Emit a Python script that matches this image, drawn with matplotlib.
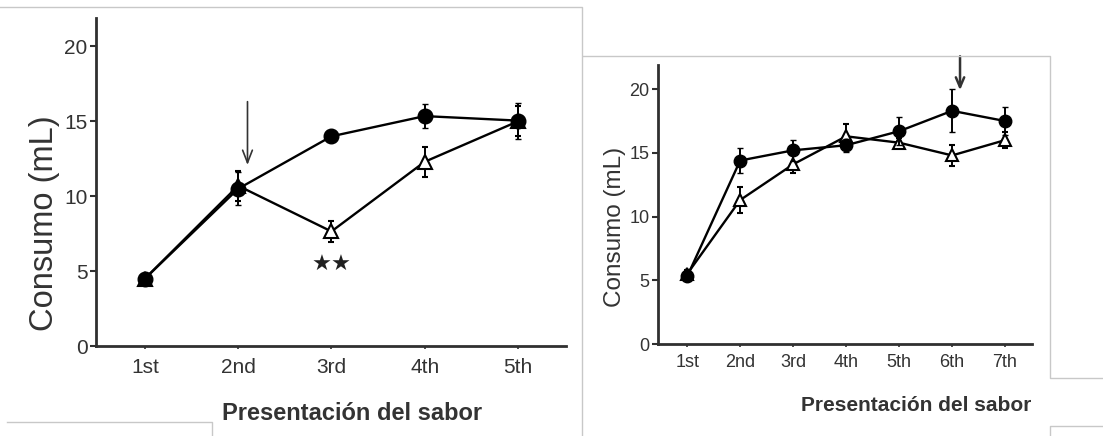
import numpy as np
import matplotlib
matplotlib.use("Agg")
import matplotlib.pyplot as plt
from matplotlib.lines import Line2D

plt.rcParams['font.family'] = ['Liberation Sans', 'DejaVu Sans']

# panel izquierdo: 5 presentaciones
izq_labels = ["1st", "2nd", "3rd", "4th", "5th"]
izq_circ = [4.5, 10.5, 14.0, 15.35, 15.05]
izq_circ_err = [0.3, 1.1, 0.3, 0.8, 1.2]
izq_tri = [4.5, 10.7, 7.65, 12.3, 15.0]
izq_tri_err = [0.3, 1.0, 0.7, 1.0, 1.0]

# panel derecho: 7 presentaciones
der_labels = ["1st", "2nd", "3rd", "4th", "5th", "6th", "7th"]
der_circ = [5.3, 14.4, 15.2, 15.6, 16.7, 18.3, 17.5]
der_circ_err = [0.3, 1.0, 0.8, 0.5, 1.1, 1.7, 1.1]
der_tri = [5.5, 11.3, 14.1, 16.3, 15.8, 14.8, 16.0]
der_tri_err = [0.3, 1.0, 0.7, 1.0, 0.4, 0.8, 0.6]

W, H = 1103, 436
GRIS = "#333333"


def px(x, y):
    return x / W, 1 - y / H


def panel(ax, labels, circ, circ_err, tri, tri_err, xlim, ms, fs_tick, pad_x):
    x = np.arange(1, len(labels) + 1)
    ax.errorbar(x, tri, yerr=tri_err, color="black", lw=1.7, marker="^",
                ms=ms, mfc="white", mec="black", mew=1.5, capsize=2.5,
                elinewidth=1.4, zorder=3)
    ax.errorbar(x, circ, yerr=circ_err, color="black", lw=1.7, marker="o",
                ms=ms, mfc="black", mec="black", capsize=2.5,
                elinewidth=1.4, zorder=4)
    ax.set_xlim(*xlim)
    ax.set_ylim(0, 21.9)
    ax.set_xticks(x)
    ax.set_xticklabels(labels)
    ax.set_yticks([0, 5, 10, 15, 20])
    for s in ["top", "right"]:
        ax.spines[s].set_visible(False)
    for s in ["left", "bottom"]:
        ax.spines[s].set_linewidth(2.0)
        ax.spines[s].set_color("#303030")
    ax.tick_params(axis="y", length=4, width=1.5, pad=2, labelsize=fs_tick,
                   labelcolor=GRIS, color="#303030")
    ax.tick_params(axis="x", length=2.5, width=1.2, pad=pad_x, labelsize=fs_tick,
                   labelcolor=GRIS, color="#303030")


fig = plt.figure(figsize=(W / 100, H / 100), dpi=100)

ax1 = fig.add_axes([0.0870, 0.2064, 0.4261, 0.7523])
panel(ax1, izq_labels, izq_circ, izq_circ_err, izq_tri, izq_tri_err,
      (0.475, 5.515), 10.5, 15, 6)
ax1.annotate("", xy=(2.1, 11.9), xytext=(2.1, 16.5),
             arrowprops=dict(arrowstyle="->,head_length=0.9,head_width=0.35",
                             color="#333333", lw=1.2))
ax1.text(3, 5.4, "★★", ha="center", va="center", fontsize=16,
         family=["DejaVu Sans"], color="#202020")

ax2 = fig.add_axes([0.5966, 0.211, 0.3391, 0.640])
panel(ax2, der_labels, der_circ, der_circ_err, der_tri, der_tri_err,
      (0.45, 7.51), 9, 13, 5)
ax2.annotate("", xy=(6.15, 19.7), xytext=(6.15, 22.8),
             arrowprops=dict(arrowstyle="->,head_length=0.7,head_width=0.3",
                             color="#333333", lw=1.8), annotation_clip=False)

# etiquetas de ejes
fig.text(*px(45, 223), "Consumo (mL)", rotation=90, ha="center", va="center",
         fontsize=23.5, color=GRIS)
fig.text(*px(352, 413), "Presentación del sabor", ha="center", va="center",
         fontsize=17, fontweight="bold", color=GRIS)
fig.text(*px(615, 227), "Consumo (mL)", rotation=90, ha="center", va="center",
         fontsize=17.5, color=GRIS)
fig.text(*px(916, 405), "Presentación del sabor", ha="center", va="center",
         fontsize=15, fontweight="bold", color=GRIS)

# bordes grises del montaje escaneado
bordes = [
    [(0, 7), (582, 7), (582, 436)],
    [(583, 56), (1050, 56), (1050, 378), (1103, 378)],
    [(1103, 426), (1050, 426), (1050, 436)],
    [(7, 422), (212, 422), (212, 436)],
]
for pts in bordes:
    xs = [p[0] / W for p in pts]
    ys = [1 - p[1] / H for p in pts]
    fig.add_artist(Line2D(xs, ys, transform=fig.transFigure,
                          color="#c8c8c8", lw=1.0))

fig.savefig("out.png", dpi=100)
